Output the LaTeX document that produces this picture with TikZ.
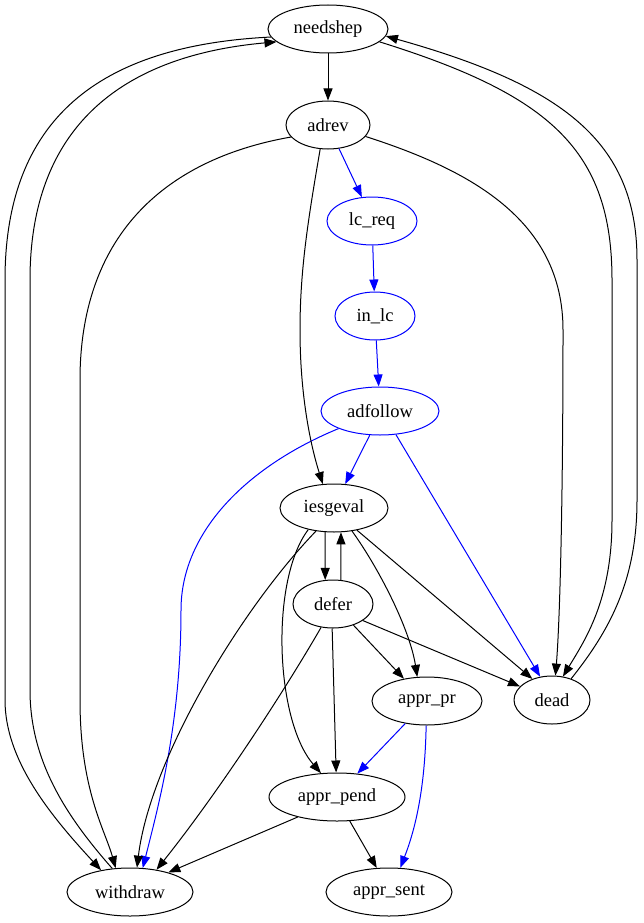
\documentclass[tikz,border=0pt]{standalone}
\usepackage{fontspec}
\setmainfont{Liberation Serif}
\usetikzlibrary{shapes.geometric,arrows.meta}
\begin{document}
\begin{tikzpicture}[x=1pt,y=-1pt,
  st/.style={ellipse, draw, line width=1pt, minimum height=48pt, inner sep=0pt, font=\fontsize{18.5}{20}\selectfont},
  bst/.style={st, draw=blue},
  e/.style={line width=1pt, -{Triangle[length=12pt,width=9pt]}},
  be/.style={e, blue}]
\useasboundingbox (0,0) rectangle (643,923);
\node[st, minimum width=120pt] (needshep) at (328,29) {needshep};
\node[st, minimum width=84pt] (adrev) at (328,125) {adrev};
\node[bst, minimum width=90pt] (lcreq) at (372,221) {lc\_req};
\node[bst, minimum width=80pt] (inlc) at (375,316) {in\_lc};
\node[bst, minimum width=118pt] (adfollow) at (380,411) {adfollow};
\node[st, minimum width=108pt] (iesgeval) at (334,508) {iesgeval};
\node[st, minimum width=80pt] (defer) at (333,604) {defer};
\node[st, minimum width=110pt] (apprpr) at (427,701) {appr\_pr};
\node[st, minimum width=76pt] (dead) at (552,700) {dead};
\node[st, minimum width=136pt] (apprpend) at (337,797) {appr\_pend};
\node[st, minimum width=126pt] (withdraw) at (130,892) {withdraw};
\node[st, minimum width=126pt] (apprsent) at (389,892) {appr\_sent};
% main chain
\draw[e] (needshep) -- (adrev);
\draw[be] (adrev.-65) -- (lcreq.113);
\draw[be] (lcreq) -- (inlc);
\draw[be] (inlc) -- (adfollow);
\draw[be] (adfollow.-113) -- (iesgeval.65);
\draw[be] (adfollow.-56) -- (dead.117);
\draw[be] (adfollow.-157) .. controls (250,465) and (181,530) .. (181,610) .. controls (181,720) and (160,800) .. (withdraw.62);
% adrev edges
\draw[e] (adrev.-162) .. controls (160,160) and (80,240) .. (80,380) -- (80,700) .. controls (80,790) and (105,830) .. (withdraw.121);
\draw[e] (adrev.-108) .. controls (308,220) and (300,270) .. (300,330) .. controls (300,400) and (312,450) .. (iesgeval.115);
\draw[e] (adrev.-17) .. controls (470,170) and (563,220) .. (563,330) .. controls (563,500) and (560,620) .. (dead.82);
% needshep <-> withdraw
\draw[e] (needshep.-172) .. controls (110,45) and (5,110) .. (5,280) -- (5,700) .. controls (5,760) and (50,815) .. (withdraw.143);
\draw[e] (withdraw.127) .. controls (65,815) and (30,760) .. (30,690) -- (30,280) .. controls (30,120) and (130,55) .. (needshep.-166);
% needshep <-> dead
\draw[e] (needshep.-14) .. controls (550,95) and (612,150) .. (612,280) -- (612,520) .. controls (612,600) and (585,640) .. (dead.65);
\draw[e] (dead.48) .. controls (610,630) and (637,580) .. (637,500) -- (637,260) .. controls (637,140) and (560,85) .. (needshep.-7);
% iesgeval edges
\draw[e] (iesgeval.-110) -- (defer.108);
\draw[e] (defer.72) -- (iesgeval.-74);
\draw[e] (iesgeval.-128) .. controls (240,610) and (150,760) .. (withdraw.74);
\draw[e] (iesgeval.-140) .. controls (270,580) and (275,720) .. (apprpend.124);
\draw[e] (iesgeval.-52) .. controls (380,570) and (410,630) .. (apprpr.112);
\draw[e] (iesgeval.-44) -- (dead.133);
% defer edges
\draw[e] (defer.-46) -- (apprpr.136);
\draw[e] (defer.-29) -- (dead.157);
\draw[e] (defer.-92) -- (apprpend.92);
\draw[e] (defer.-117) .. controls (285,690) and (220,790) .. (withdraw.40);
% appr_pr edges
\draw[be] (apprpr.-134) -- (apprpend.49);
\draw[be] (apprpr.-92) .. controls (425,790) and (415,830) .. (apprsent.65);
% appr_pend edges
\draw[e] (apprpend.-153) -- (withdraw.27);
\draw[e] (apprpend.-62) -- (apprsent.117);
\end{tikzpicture}
\end{document}
